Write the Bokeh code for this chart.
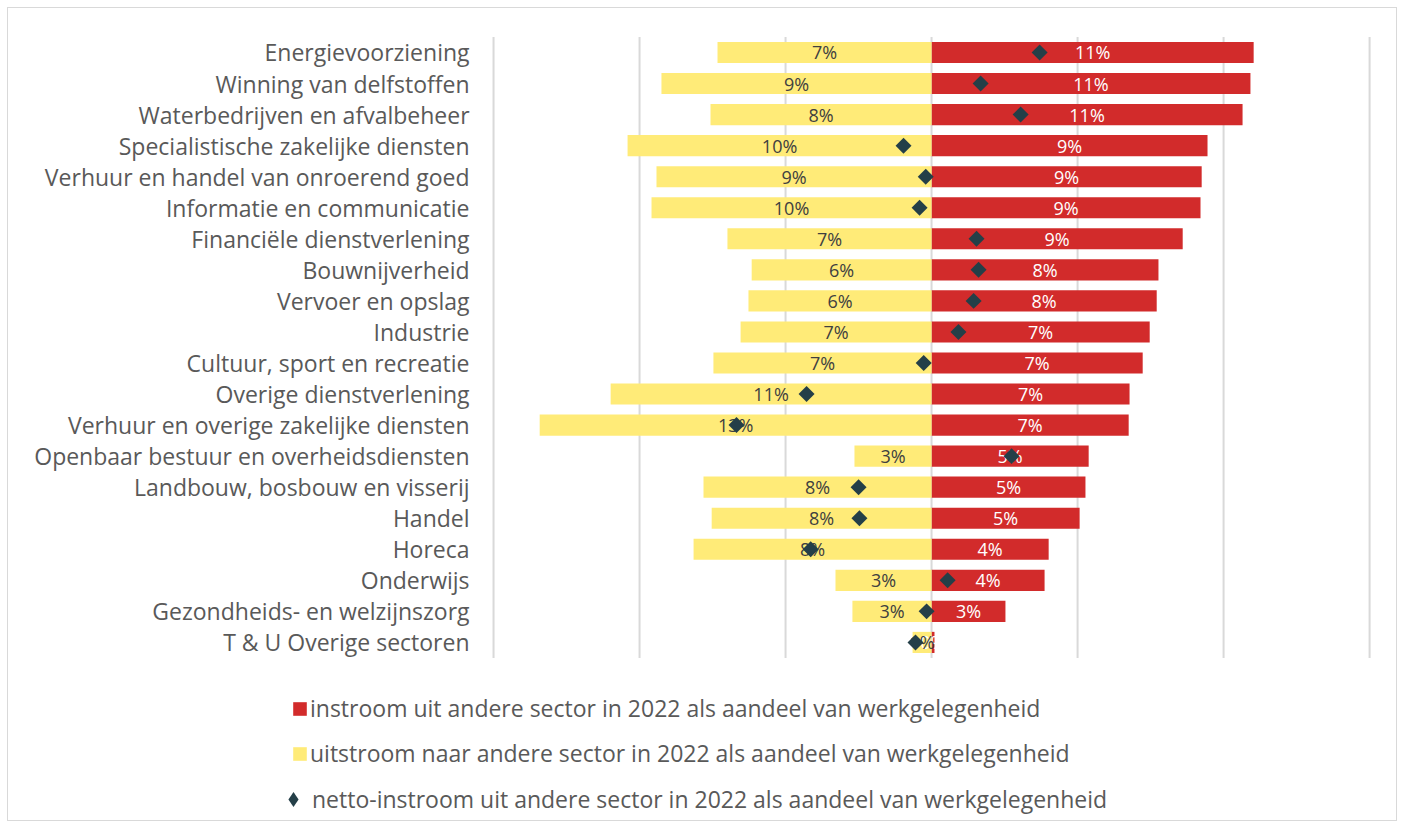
from bokeh.plotting import figure
from bokeh.models import Range1d, ColumnDataSource, Legend, LegendItem
from bokeh.core.properties import value
from bokeh.embed import file_html
from bokeh.resources import INLINE
import math

categories = [
    "Energievoorziening",
    "Winning van delfstoffen",
    "Waterbedrijven en afvalbeheer",
    "Specialistische zakelijke diensten",
    "Verhuur en handel van onroerend goed",
    "Informatie en communicatie",
    "Financiële dienstverlening",
    "Bouwnijverheid",
    "Vervoer en opslag",
    "Industrie",
    "Cultuur, sport en recreatie",
    "Overige dienstverlening",
    "Verhuur en overige zakelijke diensten",
    "Openbaar bestuur en overheidsdiensten",
    "Landbouw, bosbouw en visserij",
    "Handel",
    "Horeca",
    "Onderwijs",
    "Gezondheids- en welzijnszorg",
    "T & U Overige sectoren",
]
instroom = [11.03, 10.92, 10.65, 9.45, 9.25, 9.21, 8.60, 7.77, 7.71, 7.47,
            7.23, 6.78, 6.75, 5.38, 5.27, 5.07, 4.01, 3.87, 2.53, 0.10]
uitstroom = [-7.33, -9.25, -7.57, -10.41, -9.42, -9.59, -6.99, -6.16, -6.27, -6.54,
             -7.47, -10.99, -13.42, -2.64, -7.81, -7.53, -8.15, -3.29, -2.71, -0.65]
netto = [3.70, 1.68, 3.05, -0.96, -0.20, -0.41, 1.54, 1.61, 1.44, 0.92,
         -0.27, -4.28, -6.68, 2.74, -2.50, -2.47, -4.14, 0.55, -0.17, -0.55]
in_labels = ["11%", "11%", "11%", "9%", "9%", "9%", "9%", "8%", "8%", "7%",
             "7%", "7%", "7%", "5%", "5%", "5%", "4%", "4%", "3%", "0%"]
uit_labels = ["7%", "9%", "8%", "10%", "9%", "10%", "7%", "6%", "6%", "7%",
              "7%", "11%", "13%", "3%", "8%", "8%", "8%", "3%", "3%", "1%"]
x_ticks = [-15, -10, -5, 0, 5, 10, 15]

legend_names = [
    "instroom uit andere sector in 2022 als aandeel van werkgelegenheid",
    "uitstroom naar andere sector in 2022 als aandeel van werkgelegenheid",
    "netto-instroom uit andere sector in 2022 als aandeel van werkgelegenheid",
]

RED = "#D22B2B"
YELLOW = "#FFEB78"
DIAMOND = "#243F48"
TEXT = "#595959"
FONT = "Open Sans"

n = len(categories)
rows = list(range(n))  # row 0 at the top

src = ColumnDataSource(dict(
    row=rows,
    cat=categories,
    inn=instroom,
    uit=uitstroom,
    net=netto,
    in_mid=[v / 2 for v in instroom],
    uit_mid=[v / 2 for v in uitstroom],
    in_lab=in_labels,
    uit_lab=uit_labels,
    lab_x=[x_ticks[0]] * n,
))

grid_src = ColumnDataSource(dict(
    x=x_ticks,
    y0=[-0.5] * len(x_ticks),
    y1=[n - 0.5] * len(x_ticks),
))

p = figure(
    width=1390, height=814,
    x_range=Range1d(-31.61, 15.99),
    y_range=Range1d(start=24.8, end=-1.417),
    x_axis_location=None, y_axis_location=None,
    output_backend="svg", toolbar_location=None,
    min_border_left=0, min_border_right=0, min_border_top=0, min_border_bottom=0,
)
p.styles = {"border": "1px solid #D9D9D9", "margin": "7px 0 0 7px"}
p.outline_line_color = None
p.background_fill_color = "white"
p.grid.visible = False

# vertical gridlines at the value ticks, spanning the category rows
p.segment(x0="x", x1="x", y0="y0", y1="y1", source=grid_src,
          line_color="#D9D9D9", line_width=2)

# category labels (left of the value axis)
p.text(x="lab_x", y="row", text="cat", source=src, x_offset=-24,
       text_align="right", text_baseline="middle", text_font=value(FONT),
       text_font_size="23px", text_color=TEXT)

r_in = p.hbar(y="row", left=0, right="inn", height=0.68, source=src,
              fill_color=RED, line_color=None)
r_uit = p.hbar(y="row", left="uit", right=0, height=0.68, source=src,
               fill_color=YELLOW, line_color=None)

p.text(x="in_mid", y="row", text="in_lab", source=src, text_align="center",
       text_baseline="middle", text_font=value(FONT), text_font_size="18px",
       text_color="white")
p.text(x="uit_mid", y="row", text="uit_lab", source=src, text_align="center",
       text_baseline="middle", text_font=value(FONT), text_font_size="18px",
       text_color="#404040")

p.scatter(x="net", y="row", source=src, marker="square", size=11.3,
          angle=math.pi / 4, fill_color=DIAMOND, line_color=None)
# legend proxy for the netto series (diamond shape in the legend)
r_net_leg = p.scatter(x="net", y="row", source=src, marker="diamond", size=16,
                      fill_color=DIAMOND, line_color=None, visible=False)

common = dict(border_line_color=None, background_fill_alpha=0, padding=0, margin=0,
              label_text_font=FONT, label_text_font_size="23px",
              label_text_color=TEXT)

leg1 = Legend(items=[LegendItem(label=legend_names[0], renderers=[r_in])],
              location=(283, 98), glyph_width=17, glyph_height=17, label_height=17,
              label_standoff=2, **common)
leg2 = Legend(items=[LegendItem(label=legend_names[1], renderers=[r_uit])],
              location=(283, 53), glyph_width=17, glyph_height=17, label_height=17,
              label_standoff=2, **common)
leg3 = Legend(items=[LegendItem(label=legend_names[2], renderers=[r_net_leg])],
              location=(266, 4), glyph_width=38, glyph_height=38, label_height=38,
              label_standoff=0, **common)
for lg in (leg1, leg2, leg3):
    p.add_layout(lg)

open("out.html", "w").write(file_html(p, INLINE))
